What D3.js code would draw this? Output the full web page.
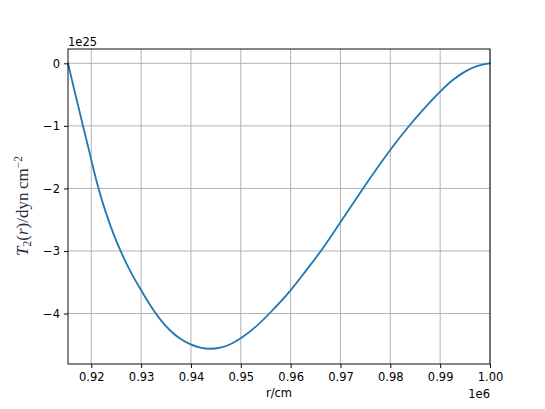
<!DOCTYPE html>
<html><head><meta charset="utf-8">
<script src="https://cdn.jsdelivr.net/npm/d3@7"></script>
<style>body{margin:0;background:#fff}svg{display:block}</style>
</head><body><svg id="c" width="545" height="409"></svg>
<script>
// r in units of 1e6 cm, T2 in units of 1e25 dyn cm^-2
const rVals = [0.91533,0.91679,0.91834,0.92000,0.92126,0.92281,0.92447,0.92602,0.92782,0.93000,0.93203,0.93383,0.93584,0.93784,0.94000,0.94185,0.94386,0.94587,0.94787,0.95001,0.95288,0.95589,0.96000,0.96300,0.96626,0.97006,0.97460,0.97750,0.98009,0.98362,0.98700,0.99012,0.99250,0.99511,0.99750,1.00000];
const tVals = [0.00,-0.49,-1.00,-1.54,-1.96,-2.37,-2.74,-3.03,-3.33,-3.63,-3.90,-4.10,-4.28,-4.41,-4.50,-4.55,-4.57,-4.55,-4.50,-4.40,-4.23,-3.99,-3.64,-3.32,-2.99,-2.53,-1.99,-1.66,-1.37,-1.01,-0.70,-0.44,-0.26,-0.12,-0.03,0.00];
const xTicks = [0.92,0.93,0.94,0.95,0.96,0.97,0.98,0.99,1.00];
const yTicks = [0,-1,-2,-3,-4];

const svg = d3.select("#c");
const L=68, R=490, T=49, B=364;
const x = d3.scaleLinear().domain([0.91533,1.0]).range([L,R]);
const y = d3.scaleLinear().domain([-4.807,0.229]).range([B,T]);
const g = svg.append("g");

// grid
g.selectAll(".gx").data(xTicks).join("line").attr("x1",d=>x(d)).attr("x2",d=>x(d)).attr("y1",T).attr("y2",B).attr("stroke","#b0b0b0").attr("stroke-width",0.95);
g.selectAll(".gy").data(yTicks).join("line").attr("y1",d=>y(d)).attr("y2",d=>y(d)).attr("x1",L).attr("x2",R).attr("stroke","#b0b0b0").attr("stroke-width",0.95);

// axes
const xa = d3.axisBottom(x).tickValues(xTicks).tickFormat(d3.format(".2f")).tickSize(4).tickPadding(4.5);
const ya = d3.axisLeft(y).tickValues(yTicks).tickFormat(d=>d===0?"0":"\u2212"+Math.abs(d)).tickSize(4).tickPadding(4);
const gx = svg.append("g").attr("transform",`translate(0,${B})`).call(xa);
const gy = svg.append("g").attr("transform",`translate(${L},0)`).call(ya);
[gx,gy].forEach(a=>{a.select(".domain").remove();a.selectAll("line").attr("stroke","#000").attr("stroke-width",0.95);a.selectAll("text").style("font-size","11.5px").attr("fill","#000").style("font-family","'DejaVu Sans',sans-serif");});

// line
const line = d3.line().x((d,i)=>x(rVals[i])).y(d=>y(d)).curve(d3.curveBasis);
svg.append("path").datum(tVals).attr("d",line).attr("fill","none").attr("stroke","#1f77b4").attr("stroke-width",1.8).attr("stroke-linejoin","round").attr("stroke-linecap","square");

// frame
svg.append("rect").attr("x",L).attr("y",T).attr("width",R-L).attr("height",B-T).attr("fill","none").attr("stroke","#000").attr("stroke-width",0.95);

const sans = "'DejaVu Sans',sans-serif";
// offset texts
svg.append("text").attr("x",L).attr("y",45.5).style("font-family",sans).style("font-size","11.5px").text("1e25");
svg.append("text").attr("x",R).attr("y",398).attr("text-anchor","end").style("font-family",sans).style("font-size","11.5px").text("1e6");

// x label
svg.append("text").attr("x",(L+R)/2).attr("y",397).attr("text-anchor","middle").style("font-family",sans).style("font-size","11.5px").text("r/cm");

// y label
const yl = svg.append("text").attr("transform","translate(28,206) rotate(-90)").attr("text-anchor","middle")
  .style("font-family","'Liberation Serif','DejaVu Serif',serif").style("font-size","17px").attr("fill","#2a2a3a");
yl.append("tspan").style("font-style","italic").text("T");
yl.append("tspan").style("font-size","11.5px").attr("dy",3).text("2");
yl.append("tspan").attr("dy",-3).text("(");
yl.append("tspan").style("font-style","italic").text("r");
yl.append("tspan").text(")/dyn\u2009cm");
yl.append("tspan").style("font-size","11.5px").attr("dy",-6.5).text("\u22122");
</script></body></html>
